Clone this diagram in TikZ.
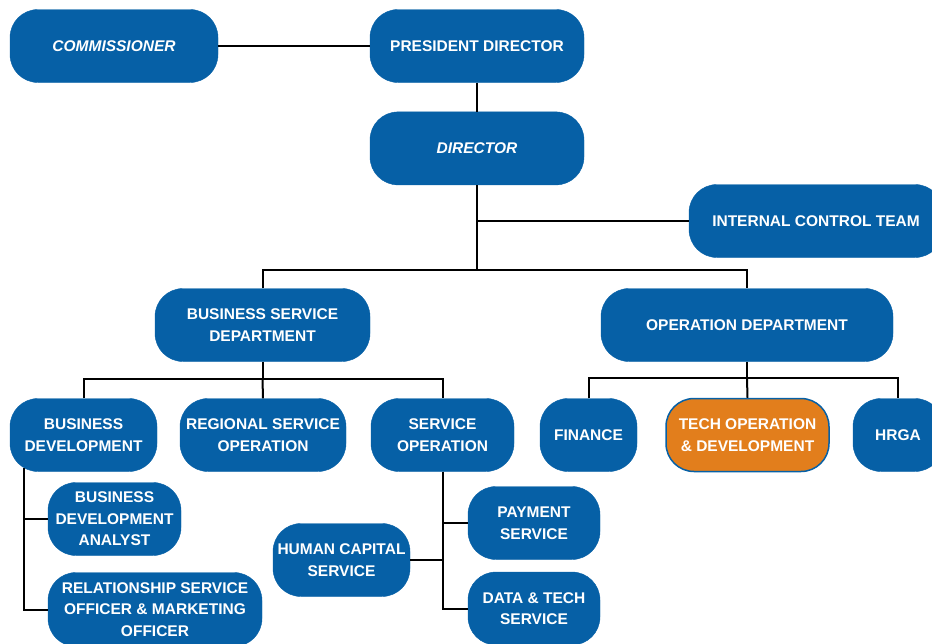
\documentclass[tikz,border=0pt]{standalone}
\usepackage{fontspec}
\setmainfont{Liberation Sans}
\definecolor{org-blue}{RGB}{6,96,166}
\definecolor{org-orange}{RGB}{226,126,28}
\usetikzlibrary{positioning}

\begin{document}
\begin{tikzpicture}[%
            x=1pt,
            y=-1pt,
            unit/.style={%
              draw=org-blue,
              fill=org-blue,
              text=white,
              rounded corners=28pt,
              minimum height=73pt,
              inner sep=2pt,
              align=center,
              font=\bfseries\fontsize{15.5}{21.5}\selectfont,
            },
            link/.style={black, line width=2pt},
          ]
            \useasboundingbox (0,0) rectangle (932,643);

            % top of the chart
            \node [unit, minimum width=214pt] (president) at (477,46) {PRESIDENT DIRECTOR};
            \node [unit, minimum width=208pt] (commissioner) at (114,46) {\itshape COMMISSIONER};
            \node [%
              unit,
              minimum width=214pt,
              below=29pt of president,
            ] (director) {\itshape DIRECTOR};
            \node [unit, minimum width=254pt] (internal) at (816,221) {INTERNAL CONTROL TEAM};
            \coordinate (director bus) at (477,270);

            \draw [link] (commissioner) -- (president);
            \draw [link] (president) -- (director);
            \draw [link] (director) -- (director bus);
            \draw [link] (director.south |- internal.west) -- (internal.west);

            % departments
            \node [unit, minimum width=215pt] (business) at (262.5,325) {BUSINESS SERVICE\\DEPARTMENT};
            \node [unit, minimum width=292pt] (operation) at (747,325) {OPERATION DEPARTMENT};
            \draw [link] (business.north) |- (director bus) -| (operation.north);

            % business service department
            \coordinate (business bus) at (262.5,379);
            \node [unit, minimum width=147pt] (bizdev) at (83.5,435) {BUSINESS\\DEVELOPMENT};
            \node [unit, minimum width=166pt] (regional) at (263,435) {REGIONAL SERVICE\\OPERATION};
            \node [unit, minimum width=143pt] (service) at (442.5,435) {SERVICE\\OPERATION};
            \draw [link] (business) -- (business bus);
            \draw [link] (bizdev.north) |- (business bus) -| (service.north);
            \draw [link] (business bus) -- (regional.north);

            \node [unit, minimum width=133pt] (analyst) at (114.5,519) {BUSINESS\\DEVELOPMENT\\ANALYST};
            \node [unit, minimum width=214pt, minimum height=74pt] (relationship) at (155,609.5) {RELATIONSHIP SERVICE\\OFFICER \& MARKETING\\OFFICER};
            \coordinate (bizdev stem) at (24,468);
            \draw [link] (bizdev stem) |- (analyst.west);
            \draw [link] (bizdev stem) |- (relationship.west);

            \node [unit, minimum width=137pt] (human) at (341.5,560) {HUMAN CAPITAL\\SERVICE};
            \node [unit, minimum width=132pt] (payment) at (534,523) {PAYMENT\\SERVICE};
            \node [unit, minimum width=132pt] (datatech) at (534,608.5) {DATA \& TECH\\SERVICE};
            \draw [link] (service.south) |- (payment.west);
            \draw [link] (service.south) |- (datatech.west);
            \draw [link] (human.east) -- (human.east -| service.south);

            % operation department
            \coordinate (operation bus) at (747,378);
            \node [unit, minimum width=97pt] (finance) at (588.5,435) {FINANCE};
            \node [%
              unit,
              fill=org-orange,
              line width=1.5pt,
              minimum width=163pt,
            ] (techop) at (747.5,435) {TECH OPERATION\\\& DEVELOPMENT};
            \node [unit, minimum width=90pt] (hrga) at (898,435) {HRGA};
            \draw [link] (operation) -- (operation bus);
            \draw [link] (finance.north) |- (operation bus) -| (hrga.north);
            \draw [link] (operation bus) -- (techop.north);
          \end{tikzpicture}
\end{document}
